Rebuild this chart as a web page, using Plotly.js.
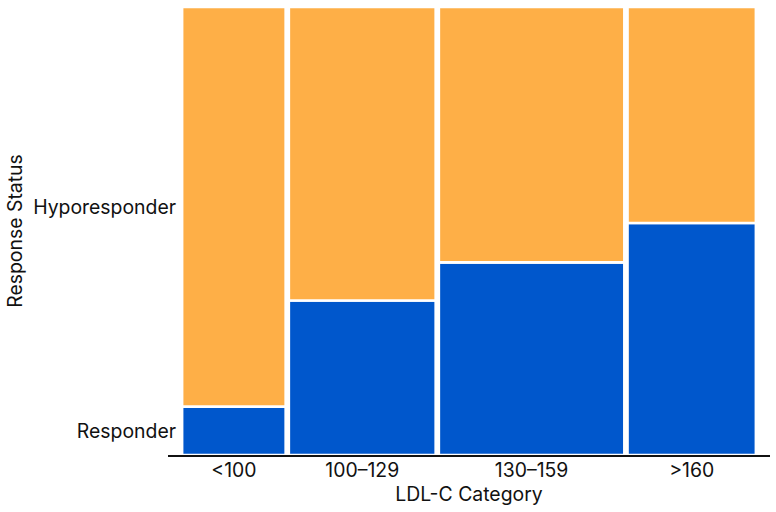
<!DOCTYPE html>
<html>
<head>
<meta charset="utf-8">
<script src="https://cdn.plot.ly/plotly-3.0.1.min.js"></script>
<style>
  html, body { margin: 0; padding: 0; background: #ffffff; }
  #chart { width: 776px; height: 512px; }
</style>
</head>
<body>
<div id="chart"></div>
<script>
// LDL-C categories and their share of the cohort (column widths of the mosaic)
const categories = ['<100', '100–129', '130–159', '>160'];
const groupShare = [0.185, 0.260, 0.327, 0.228];
// Fraction of each category that responded (lower, blue tile)
const responderShare = [0.108, 0.345, 0.430, 0.518];
const statusLabels = ['Responder', 'Hyporesponder'];

const colGap = 0.0055;        // white space between columns, in data units
const blue = '#0057CC';
const orange = '#FEAF47';

// Column centres and widths from cumulative shares
const centers = [];
const widths = [];
let acc = 0;
groupShare.forEach(s => {
  centers.push(acc + s / 2);
  widths.push(s - colGap);
  acc += s;
});
const hypoShare = responderShare.map(r => 1 - r);

const outline = { color: '#ffffff', width: 2.6 };

const traces = [
  {
    type: 'bar', name: statusLabels[0],
    x: centers, y: responderShare, base: 0, width: widths,
    marker: { color: blue, line: outline },
    hoverinfo: 'skip'
  },
  {
    type: 'bar', name: statusLabels[1],
    x: centers, y: hypoShare, base: responderShare, width: widths,
    marker: { color: orange, line: outline },
    hoverinfo: 'skip'
  }
];

// Row labels sit in the middle of the first column's tiles
const p0 = responderShare[0];
const yTicks = [p0 / 2, p0 + (1 - p0) / 2];

const font = { family: 'Inter, "Noto Sans", sans-serif', size: 19.4, color: '#111111' };

const layout = {
  width: 776, height: 512,
  margin: { l: 168, r: 6, t: 7, b: 57 },
  paper_bgcolor: '#ffffff', plot_bgcolor: '#ffffff',
  showlegend: false,
  barmode: 'overlay',
  font: font,
  xaxis: {
    range: [-0.0217, 1.0217],
    tickmode: 'array', tickvals: centers, ticktext: categories,
    showgrid: false, zeroline: false,
    showline: true, linecolor: '#111111', linewidth: 1.5,
    ticks: '',
    ticklabelstandoff: -3,
    tickfont: font,
    title: { text: 'LDL-C Category', font: font, standoff: 0 },
    fixedrange: true
  },
  yaxis: {
    range: [0, 1],
    tickmode: 'array', tickvals: yTicks, ticktext: statusLabels,
    showgrid: false, zeroline: false, showline: false,
    ticks: '',
    ticklabelstandoff: -9,
    tickfont: font,
    title: { text: 'Response Status', font: font, standoff: 5 },
    fixedrange: true
  }
};

Plotly.newPlot('chart', traces, layout, { displayModeBar: false, staticPlot: true });
</script>
</body>
</html>
